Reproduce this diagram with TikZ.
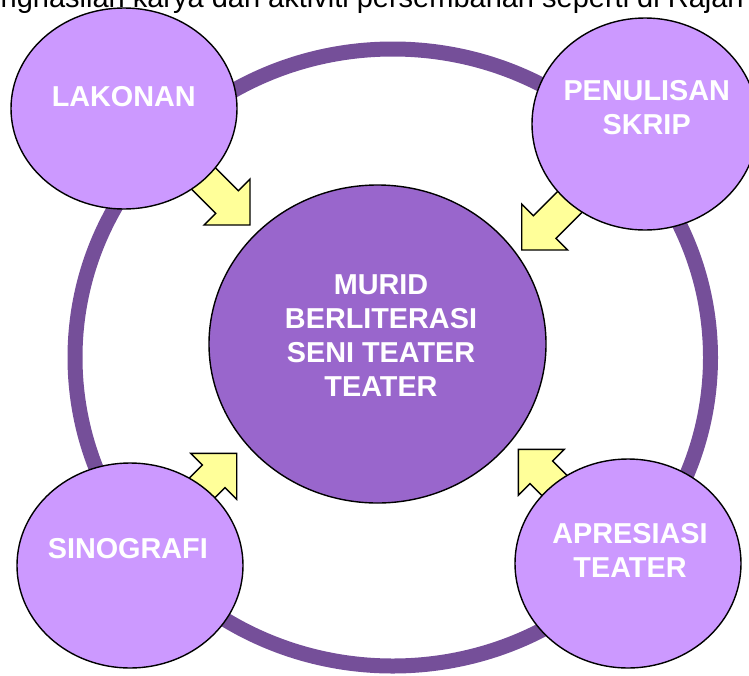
\documentclass[tikz,border=0pt]{standalone}
\usepackage{fontspec}
\setmainfont{Liberation Sans}
\usepackage{tikz}
\usetikzlibrary{shapes.geometric}
\definecolor{ringc}{HTML}{754F99}
\definecolor{outc}{HTML}{CC99FF}
\definecolor{midc}{HTML}{9966CC}
\definecolor{yelc}{HTML}{FFFF99}
\tikzset{lb/.style={font=\fontsize{28.8}{34}\selectfont\bfseries,text=white,align=center,anchor=north,inner sep=0pt}}
\tikzset{bub/.style={ellipse,draw=black,line width=1.4pt,fill=outc,inner sep=0pt}}
\tikzset{ar/.style={draw=black,line width=1.4pt,fill=yelc,line join=miter}}

\begin{document}
\begin{tikzpicture}[x=1pt,y=-1pt]
        \useasboundingbox (0,0) rectangle (749,675);
        \clip (0,0) rectangle (749,675);
        \node[anchor=base east,inner sep=0pt,font=\fontsize{29}{34}\selectfont] (cap) at (744,7)
          {penghasilan karya dan aktiviti persembahan seperti di Rajah};
        \draw[ringc,line width=15pt] (392.75,357.5) ellipse [x radius=317.75, y radius=308.5];
        \coordinate (tL) at (250,225);
        \coordinate (tP) at (521.7,250);
        \coordinate (tS) at (236.7,453.3);
        \coordinate (tA) at (518.3,449.3);
        \foreach \p/\a in {tL/-45,tP/-135,tS/45,tA/135}
          \draw[ar,shift={(\p)},rotate=\a] (0,0) -- (-32.5,32.5) -- (-32.5,16) -- (-90,16)
            -- (-90,-16) -- (-32.5,-16) -- (-32.5,-32.5) -- cycle;
        \node[bub,fill=midc,minimum width=337pt,minimum height=318pt] (mid) at (377.5,344) {};
        \node[bub,minimum width=226pt,minimum height=201pt] (lak) at (124,108.5) {};
        \node[bub,minimum width=226pt,minimum height=212pt] (pen) at (645,124) {};
        \node[bub,minimum width=226pt,minimum height=205pt] (sin) at (130,565.5) {};
        \node[bub,minimum width=226pt,minimum height=209pt] (apr) at (628,563.5) {};
        \node[lb] (midT) at (381,274.3) {MURID\\BERLITERASI\\SENI TEATER\\TEATER};
        \node[lb] (lakT) at (123.8,86) {LAKONAN};
        \node[lb] (penT) at (646.7,80) {PENULISAN\\SKRIP};
        \node[lb] (sinT) at (127.8,538.3) {SINOGRAFI};
        \node[lb] (aprT) at (630,523.3) {APRESIASI\\TEATER};
      \end{tikzpicture}
\end{document}
